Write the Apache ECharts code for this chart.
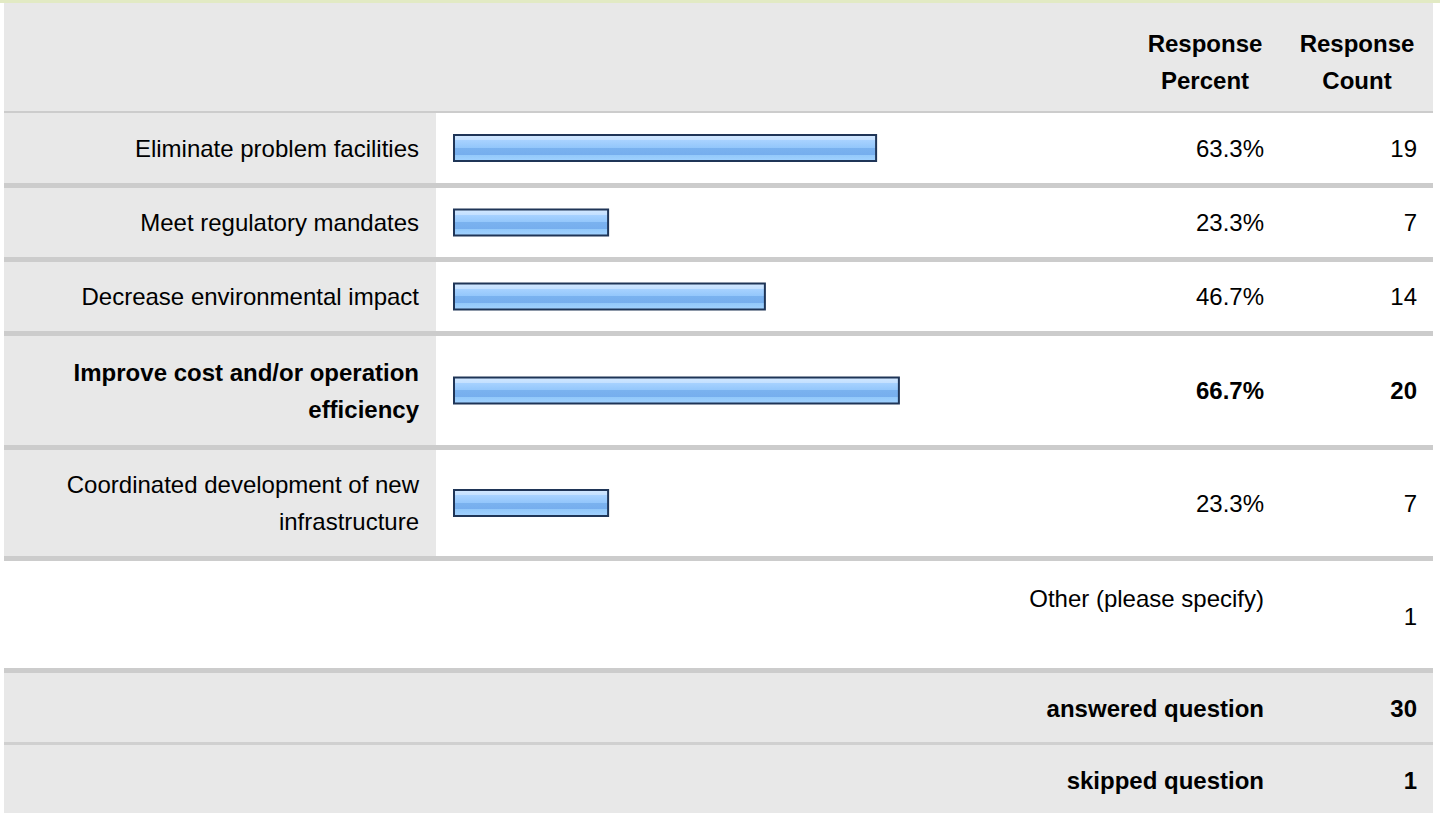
<!DOCTYPE html>
<html>
<head>
<meta charset="utf-8">
<script src="https://cdn.jsdelivr.net/npm/echarts@6/dist/echarts.min.js"></script>
<style>
    html, body { margin: 0; padding: 0; background: #fff; }
    #chart { width: 1440px; height: 813px; }
</style>
</head>
<body>
<div id="chart"></div>
<script>
// data
const answers = [
    'Eliminate problem facilities',
    'Meet regulatory mandates',
    'Decrease environmental impact',
    'Improve cost and/or operation efficiency',
    'Coordinated development of new infrastructure'
]
const responsePercent = [63.3, 23.3, 46.7, 66.7, 23.3]
const responseCount = [19, 7, 14, 20, 7]
const boldIndex = 3 // highlighted row
const headerLabels = ['Response\nPercent', 'Response\nCount']
const otherLabel = 'Other (please specify)'
const otherCount = 1
const answeredLabel = 'answered question'
const answeredCount = 30
const skippedLabel = 'skipped question'
const skippedCount = 1

// layout (px)
const rowBands = [[113, 183], [188, 257], [262, 331], [336, 445], [450, 556]]
const FONT = '"Liberation Sans", Arial, sans-serif'
const FS = 24
const LH = 37
const barLeft = 453
const barWidthPx = 670
const pctRight = 1264
const cntRight = 1417
const wrapWidth = 385

const chart = echarts.init(document.getElementById('chart'), null, { renderer: 'svg' })

// word wrap without trailing spaces, so right edges line up
const measureCtx = document.createElement('canvas').getContext('2d')
const wrapText = (str, bold) => {
    measureCtx.font = (bold ? 'bold ' : '') + FS + 'px ' + FONT
    const lines = []
    let line = ''
    str.split(' ').forEach((w) => {
        const test = line ? line + ' ' + w : w
        if (line && measureCtx.measureText(test).width > wrapWidth) {
            lines.push(line)
            line = w
        } else {
            line = test
        }
    })
    lines.push(line)
    return lines.join('\n')
}

const barColor = new echarts.graphic.LinearGradient(0, 0, 0, 1, [
    { offset: 0, color: '#d2e8ff' },
    { offset: 0.2, color: '#c4e0ff' },
    { offset: 0.2, color: '#a8d2ff' },
    { offset: 0.5, color: '#92c6fb' },
    { offset: 0.5, color: '#7ab2ef' },
    { offset: 0.75, color: '#76aeee' },
    { offset: 0.75, color: '#92c8fa' },
    { offset: 1, color: '#a2d2ff' }
])

const grids = []
const xAxes = []
const yAxes = []
const series = []
const labelStyle = (i) => ({
    fontFamily: FONT,
    fontSize: FS,
    color: '#000',
    fontWeight: i === boldIndex ? 'bold' : 'normal'
})

answers.forEach((name, i) => {
    const band = rowBands[i]
    grids.push({ left: barLeft, width: barWidthPx, top: band[0], height: band[1] - band[0] })
    xAxes.push({ gridIndex: i, type: 'value', min: 0, max: 100, show: false })
    yAxes.push({
        gridIndex: i, type: 'category', data: [name], position: 'left',
        axisLine: { show: false }, axisTick: { show: false },
        axisLabel: Object.assign(labelStyle(i), {
            margin: 34, align: 'right', lineHeight: LH,
            formatter: (v) => wrapText(v, i === boldIndex)
        })
    })
    yAxes.push({
        gridIndex: i, type: 'category', data: [responsePercent[i].toFixed(1) + '%'], position: 'right',
        axisLine: { show: false }, axisTick: { show: false },
        axisLabel: Object.assign(labelStyle(i), { margin: pctRight - barLeft - barWidthPx, align: 'right' })
    })
    yAxes.push({
        gridIndex: i, type: 'category', data: [String(responseCount[i])], position: 'right',
        offset: cntRight - pctRight,
        axisLine: { show: false }, axisTick: { show: false },
        axisLabel: Object.assign(labelStyle(i), { margin: pctRight - barLeft - barWidthPx, align: 'right' })
    })
    series.push({
        type: 'bar',
        xAxisIndex: i,
        yAxisIndex: i * 3,
        data: [responsePercent[i]],
        barWidth: 28,
        silent: true,
        itemStyle: { color: barColor, borderColor: '#1f3557', borderWidth: 2 }
    })
})

// table frame
const rect = (x, y, w, h, fill) => ({ type: 'rect', z: -10, silent: true, shape: { x, y, width: w, height: h }, style: { fill } })
const text = (str, x, y, align, bold) => ({
    type: 'text', z: 10, silent: true, x, y,
    style: {
        text: str, align, verticalAlign: 'middle', lineHeight: LH,
        fontFamily: FONT, fontSize: FS, fontWeight: bold ? 'bold' : 'normal', fill: '#000'
    }
})

const graphics = [
    rect(0, 0, 1440, 3, '#e2eac4'),
    rect(4, 3, 1429, 108, '#e8e8e8'),
    rect(4, 111, 1429, 2, '#cccccc'),
    rect(4, 673, 1429, 140, '#e8e8e8'),
    rect(4, 742, 1429, 3, '#d0d0d0'),
    rect(4, 668, 1429, 5, '#cccccc')
]
rowBands.forEach((b) => {
    graphics.push(rect(4, b[0], 432, b[1] - b[0], '#e8e8e8'))
    graphics.push(rect(4, b[1], 1429, 5, '#cccccc'))
})
graphics.push(
    text(headerLabels[0], 1205, 62, 'center', true),
    text(headerLabels[1], 1357, 62, 'center', true),
    text(otherLabel, pctRight, 598, 'right', false),
    text(String(otherCount), cntRight, 616, 'right', false),
    text(answeredLabel, pctRight, 708, 'right', true),
    text(String(answeredCount), cntRight, 708, 'right', true),
    text(skippedLabel, pctRight, 780, 'right', true),
    text(String(skippedCount), cntRight, 780, 'right', true)
)

chart.setOption({
    animation: false,
    backgroundColor: '#fff',
    graphic: graphics,
    grid: grids,
    xAxis: xAxes,
    yAxis: yAxes,
    series: series
})
</script>
</body>
</html>
